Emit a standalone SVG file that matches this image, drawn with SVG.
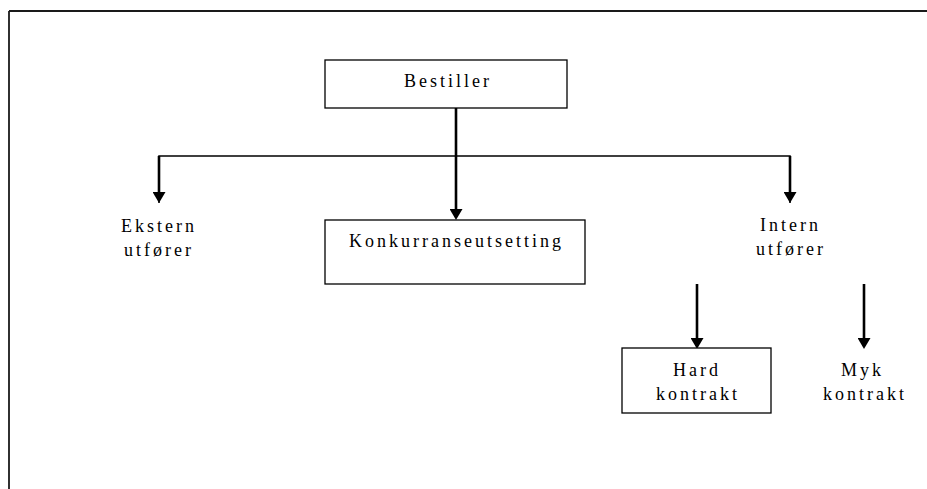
<svg xmlns="http://www.w3.org/2000/svg" width="927" height="489" viewBox="0 0 927 489">
  <style>
    .box { fill: #ffffff; stroke: #000000; stroke-width: 1.3; }
    .lbl { font-family: "Liberation Serif", "Times New Roman", serif; font-size: 18px; letter-spacing: 3px; fill: #000000; }
    .frame { stroke: #1a1a1a; stroke-width: 1.8; fill: none; }
    .hline { stroke: #000000; stroke-width: 1.5; fill: none; }
    .arr { stroke: #000000; stroke-width: 2.6; fill: none; marker-end: url(#ah); }
  </style>
  <defs>
    <marker id="ah" markerUnits="userSpaceOnUse" viewBox="0 -6.5 11 13" refX="8" refY="0" markerWidth="11" markerHeight="13" orient="auto">
      <path d="M0,-6.5 L11,0 L0,6.5 Z" fill="#000000"/>
    </marker>
  </defs>
  <rect width="927" height="489" fill="#ffffff"/>
  <g id="frame">
    <line class="frame" x1="9" y1="11" x2="927" y2="11"/>
    <line class="frame" x1="9" y1="11" x2="9" y2="489"/>
  </g>
  <g id="connectors">
    <polyline class="hline" points="159,203 159,156 790,156 790,203"/>
    <line class="arr" x1="159" y1="156" x2="159" y2="200"/>
    <line class="arr" x1="790" y1="156" x2="790" y2="200"/>
    <line class="arr" x1="456" y1="108" x2="456" y2="217"/>
    <line class="arr" x1="697" y1="284" x2="697" y2="346"/>
    <line class="arr" x1="864" y1="284" x2="864" y2="346"/>
  </g>
  <g id="bestiller">
    <rect class="box" x="325" y="60" width="242" height="48"/>
    <text class="lbl" x="404" y="87">Bestiller</text>
  </g>
  <g id="ekstern">
    <text class="lbl" x="121" y="232">Ekstern</text>
    <text class="lbl" x="124" y="256">utfører</text>
  </g>
  <g id="konkurranse">
    <rect class="box" x="325" y="220" width="260" height="64"/>
    <text class="lbl" x="349" y="247">Konkurranseutsetting</text>
  </g>
  <g id="intern">
    <text class="lbl" x="760" y="231">Intern</text>
    <text class="lbl" x="756" y="255">utfører</text>
  </g>
  <g id="hard">
    <rect class="box" x="622" y="348" width="149" height="65"/>
    <text class="lbl" x="673" y="376">Hard</text>
    <text class="lbl" x="656" y="400">kontrakt</text>
  </g>
  <g id="myk">
    <text class="lbl" x="841" y="376">Myk</text>
    <text class="lbl" x="823" y="400">kontrakt</text>
  </g>
</svg>
